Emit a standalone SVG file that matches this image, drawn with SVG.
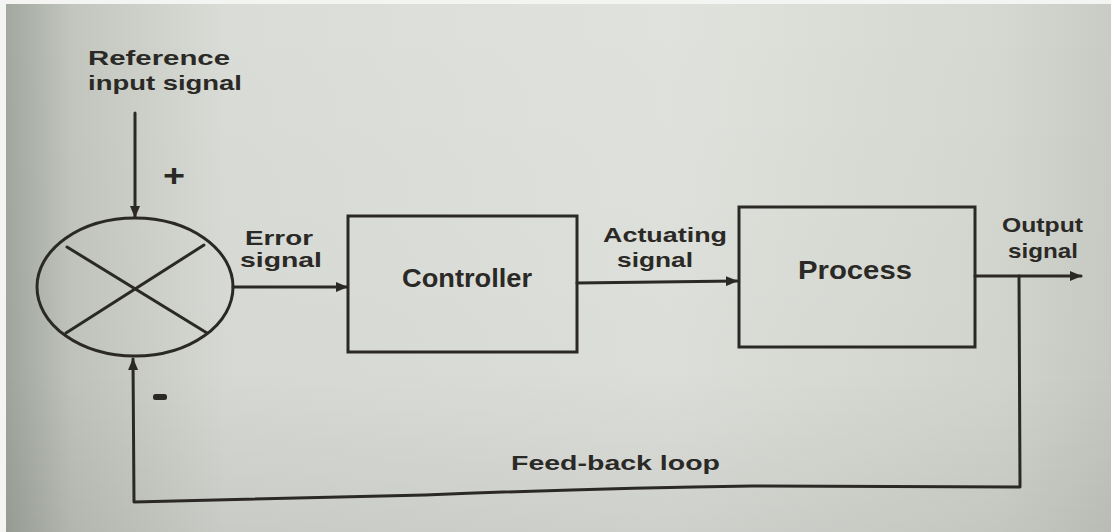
<svg xmlns="http://www.w3.org/2000/svg" width="1111" height="532" viewBox="0 0 1111 532">
  <style>
    .ln { fill: none; stroke: #2b2926; stroke-width: 3; stroke-linecap: round; stroke-linejoin: round; }
    .bx { fill: none; stroke: #2b2926; stroke-width: 3; }
    .t { font-family: "Liberation Sans", Arial, sans-serif; font-weight: bold; fill: #2b2926; font-size: 21px; }
    .tb { font-size: 26px; }
  </style>
  <defs>
    <linearGradient id="bgH" x1="0" y1="0" x2="1" y2="0">
      <stop offset="0" stop-color="#a3a89f"/>
      <stop offset="0.06" stop-color="#c2c6be"/>
      <stop offset="0.2" stop-color="#dadDd7"/>
      <stop offset="0.6" stop-color="#e0e2dd"/>
      <stop offset="0.9" stop-color="#d5d8d1"/>
      <stop offset="1" stop-color="#c9ccc5"/>
    </linearGradient>
    <linearGradient id="bgV" x1="0" y1="0" x2="0" y2="1">
      <stop offset="0" stop-color="#000" stop-opacity="0"/>
      <stop offset="0.7" stop-color="#000" stop-opacity="0.02"/>
      <stop offset="1" stop-color="#000" stop-opacity="0.08"/>
    </linearGradient>
    <marker id="ah" markerWidth="12" markerHeight="10" refX="11" refY="5" orient="auto" markerUnits="userSpaceOnUse">
      <path d="M0,0 L12,5 L0,10 z" fill="#2b2926"/>
    </marker>
  </defs>

  <rect x="0" y="0" width="1111" height="532" fill="#f4f5f2"/>
  <rect x="6" y="4" width="1105" height="528" fill="url(#bgH)"/>
  <rect x="6" y="4" width="1105" height="528" fill="url(#bgV)"/>

  <g id="connectors">
    <line class="ln" x1="135" y1="113" x2="135" y2="217" marker-end="url(#ah)"/>
    <line class="ln" x1="233" y1="287" x2="347" y2="287" marker-end="url(#ah)"/>
    <line class="ln" x1="577" y1="283" x2="737" y2="281" marker-end="url(#ah)"/>
    <line class="ln" x1="975" y1="276" x2="1081" y2="276" marker-end="url(#ah)"/>
    <path class="ln" d="M1019,276 L1020,487 L752,486 Q600,488 425,495 L134,502 L133,359" marker-end="url(#ah)"/>
  </g>

  <g id="summing-junction">
    <ellipse class="bx" cx="135" cy="287" rx="98" ry="69"/>
    <line class="ln" x1="67" y1="247" x2="207" y2="333"/>
    <line class="ln" x1="204" y1="245" x2="66" y2="333"/>
    <text class="t" x="163" y="186" style="font-size:32px" textLength="22" lengthAdjust="spacingAndGlyphs">+</text>
    <rect x="153" y="394" width="14" height="6" rx="2.5" fill="#2b2926"/>
  </g>

  <g id="controller">
    <rect class="bx" x="348" y="216" width="229" height="136"/>
    <text class="t tb" x="402" y="287" textLength="130" lengthAdjust="spacingAndGlyphs">Controller</text>
  </g>

  <g id="process">
    <rect class="bx" x="739" y="207" width="236" height="140"/>
    <text class="t" x="798" y="279" style="font-size:25px" textLength="114" lengthAdjust="spacingAndGlyphs">Process</text>
  </g>

  <g id="labels">
    <text class="t" x="88" y="65" textLength="142" lengthAdjust="spacingAndGlyphs">Reference</text>
    <text class="t" x="88" y="90" textLength="154" lengthAdjust="spacingAndGlyphs">input signal</text>
    <text class="t" x="245" y="245" textLength="68" lengthAdjust="spacingAndGlyphs">Error</text>
    <text class="t" x="240" y="267" textLength="82" lengthAdjust="spacingAndGlyphs">signal</text>
    <text class="t" x="603" y="242" textLength="124" lengthAdjust="spacingAndGlyphs">Actuating</text>
    <text class="t" x="617" y="267" textLength="76" lengthAdjust="spacingAndGlyphs">signal</text>
    <text class="t" x="1002" y="232" textLength="81" lengthAdjust="spacingAndGlyphs">Output</text>
    <text class="t" x="1008" y="258" textLength="70" lengthAdjust="spacingAndGlyphs">signal</text>
    <text class="t" x="511" y="470" textLength="209" lengthAdjust="spacingAndGlyphs">Feed-back loop</text>
  </g>
</svg>
